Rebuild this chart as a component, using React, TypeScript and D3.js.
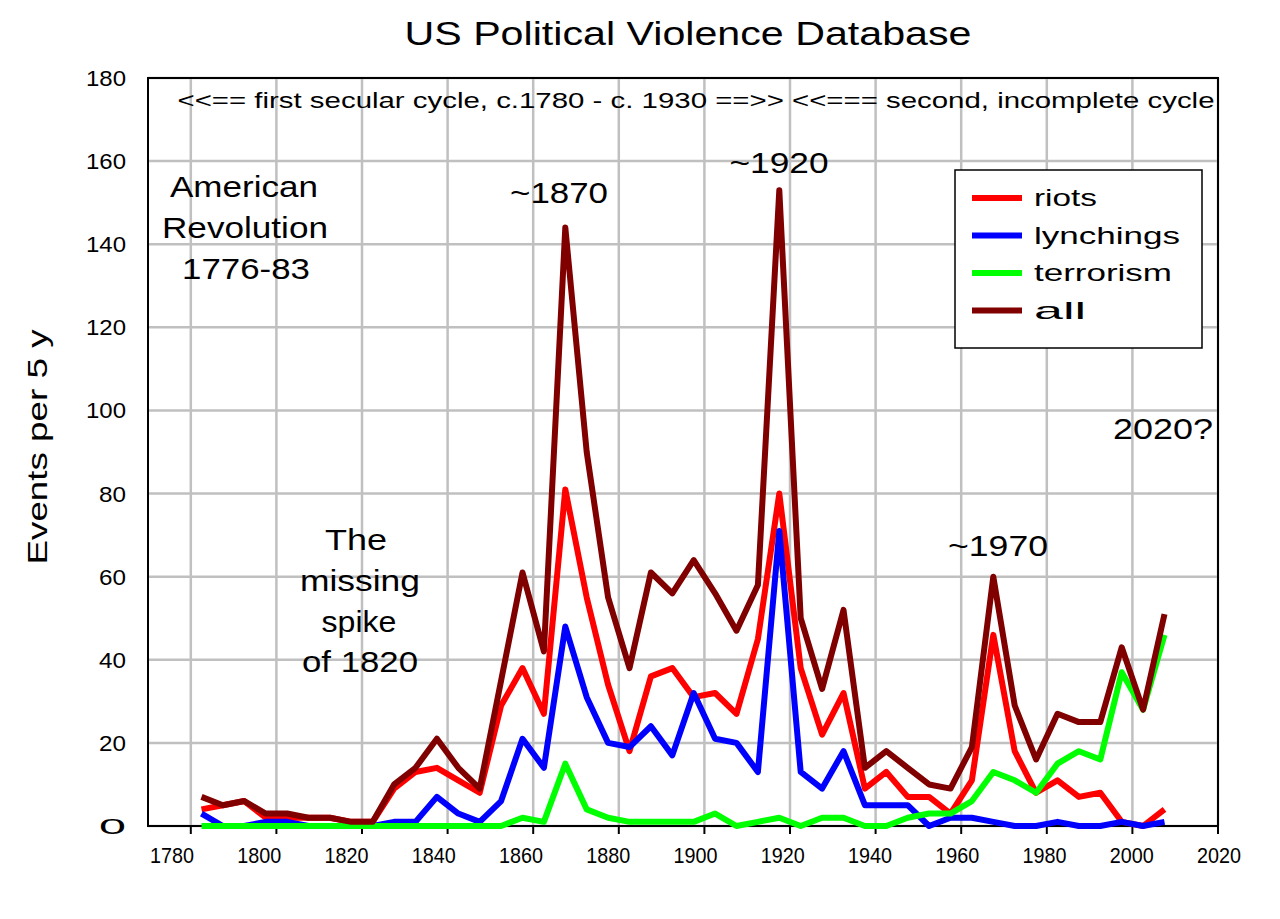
import React from "react";
import * as d3 from "d3";

const years = [1782.5, 1787.5, 1792.5, 1797.5, 1802.5, 1807.5, 1812.5, 1817.5, 1822.5, 1827.5, 1832.5, 1837.5, 1842.5, 1847.5, 1852.5, 1857.5, 1862.5, 1867.5, 1872.5, 1877.5, 1882.5, 1887.5, 1892.5, 1897.5, 1902.5, 1907.5, 1912.5, 1917.5, 1922.5, 1927.5, 1932.5, 1937.5, 1942.5, 1947.5, 1952.5, 1957.5, 1962.5, 1967.5, 1972.5, 1977.5, 1982.5, 1987.5, 1992.5, 1997.5, 2002.5, 2007.5];
const riots = [4, 5, 6, 2, 2, 2, 2, 1, 1, 9, 13, 14, 11, 8, 29, 38, 27, 81, 55, 34, 18, 36, 38, 31, 32, 27, 45, 80, 38, 22, 32, 9, 13, 7, 7, 3, 11, 46, 18, 8, 11, 7, 8, 1, 0, 4];
const lynchings = [3, 0, 0, 1, 1, 0, 0, 0, 0, 1, 1, 7, 3, 1, 6, 21, 14, 48, 31, 20, 19, 24, 17, 32, 21, 20, 13, 71, 13, 9, 18, 5, 5, 5, 0, 2, 2, 1, 0, 0, 1, 0, 0, 1, 0, 1];
const terrorism = [0, 0, 0, 0, 0, 0, 0, 0, 0, 0, 0, 0, 0, 0, 0, 2, 1, 15, 4, 2, 1, 1, 1, 1, 3, 0, 1, 2, 0, 2, 2, 0, 0, 2, 3, 3, 6, 13, 11, 8, 15, 18, 16, 37, 28, 46];
const all = [7, 5, 6, 3, 3, 2, 2, 1, 1, 10, 14, 21, 14, 9, 35, 61, 42, 144, 90, 55, 38, 61, 56, 64, 56, 47, 58, 153, 50, 33, 52, 14, 18, 14, 10, 9, 19, 60, 29, 16, 27, 25, 25, 43, 28, 51];
const xTicks = d3.range(1780, 2021, 20);
const yTicks = d3.range(0, 181, 20);

const series = [
  { name: "riots", values: riots, color: "#ff0000", len: 63 },
  { name: "lynchings", values: lynchings, color: "#0000ff", len: 146 },
  { name: "terrorism", values: terrorism, color: "#00ff00", len: 138 },
  { name: "all", values: all, color: "#800000", len: 52 },
];

const W = 1280, H = 919;
const L = 148, R = 1218, T = 78, B = 826;
const font = "Arial, 'Liberation Sans', sans-serif";

const notes = [
  { t: "American", x: 244, y: 197, w: 148 },
  { t: "Revolution", x: 245, y: 238, w: 166 },
  { t: "1776-83", x: 246, y: 279, w: 128 },
  { t: "The", x: 356, y: 550, w: 62 },
  { t: "missing", x: 360, y: 591, w: 120 },
  { t: "spike", x: 359, y: 632, w: 75 },
  { t: "of 1820", x: 360, y: 672, w: 116 },
  { t: "~1870", x: 559, y: 203, w: 98 },
  { t: "~1920", x: 779, y: 173, w: 99 },
  { t: "~1970", x: 998, y: 556, w: 100 },
  { t: "2020?", x: 1163, y: 439, w: 100 },
];

export default function App() {
  const x = d3.scaleLinear().domain([1770, 2020]).range([L, R]);
  const labelX = d3.scaleLinear().domain([1780, 2020]).range([172, 1219]);
  const y = d3.scaleLinear().domain([0, 180]).range([B, T]);
  const line = (vals: number[]) =>
    d3.line<number>().x((_, i) => x(years[i])).y(d => y(d))(vals) || "";

  return (
    <svg width={W} height={H} style={{ position: "absolute", left: 0, top: 0, background: "#fff" }} fontFamily={font}>
      {xTicks.map(t => (
        <line key={"gx" + t} x1={x(t)} x2={x(t)} y1={T} y2={B} stroke="#c0c0c0" strokeWidth={2.5} />
      ))}
      {yTicks.map(t => (
        <line key={"gy" + t} x1={L} x2={R} y1={y(t)} y2={y(t)} stroke="#c0c0c0" strokeWidth={2.5} />
      ))}
      <rect x={L} y={T} width={R - L} height={B - T} fill="none" stroke="#000" strokeWidth={2} />
      {xTicks.map(t => (
        <line key={"tk" + t} x1={x(t)} x2={x(t)} y1={B} y2={B + 8} stroke="#000" strokeWidth={2} />
      ))}
      {d3.range(1780, 2021, 20).map(t => (
        <text key={"tx" + t} x={labelX(t)} y={B + 37} textAnchor="middle" fontSize={22} textLength={44} lengthAdjust="spacingAndGlyphs">{t}</text>
      ))}
      {yTicks.map(t => (
        <text key={"ty" + t} x={L - 22} y={y(t) + 8} textAnchor="end" fontSize={22} textLength={t >= 100 ? 40 : 27} lengthAdjust="spacingAndGlyphs">{t}</text>
      ))}
      <text x={688} y={45} textAnchor="middle" fontSize={34} textLength={567} lengthAdjust="spacingAndGlyphs">US Political Violence Database</text>
      <text transform={`translate(47,447) rotate(-90)`} textAnchor="middle" fontSize={28} textLength={235} lengthAdjust="spacingAndGlyphs">Events per 5 y</text>
      <text x={696} y={108} textAnchor="middle" fontSize={22} textLength={1037} lengthAdjust="spacingAndGlyphs">{"<<==  first secular cycle, c.1780 - c. 1930  ==>> <<=== second, incomplete cycle"}</text>

      {series.map(s => (
        <path key={s.name} d={line(s.values)} fill="none" stroke={s.color} strokeWidth={6} strokeLinejoin="round" />
      ))}

      {notes.map(n => (
        <text key={n.t} x={n.x} y={n.y} textAnchor="middle" fontSize={30} textLength={n.w} lengthAdjust="spacingAndGlyphs">{n.t}</text>
      ))}

      <rect x={955} y={170} width={247} height={178} fill="#fff" stroke="#000" strokeWidth={1.5} />
      {series.map((s, i) => (
        <g key={"lg" + s.name} transform={`translate(972,${198 + i * 37.5})`}>
          <line x1={0} x2={50} y1={0} y2={0} stroke={s.color} strokeWidth={6} />
          <text x={62} y={8} fontSize={24} textLength={s.len} lengthAdjust="spacingAndGlyphs">{s.name}</text>
        </g>
      ))}
    </svg>
  );
}
